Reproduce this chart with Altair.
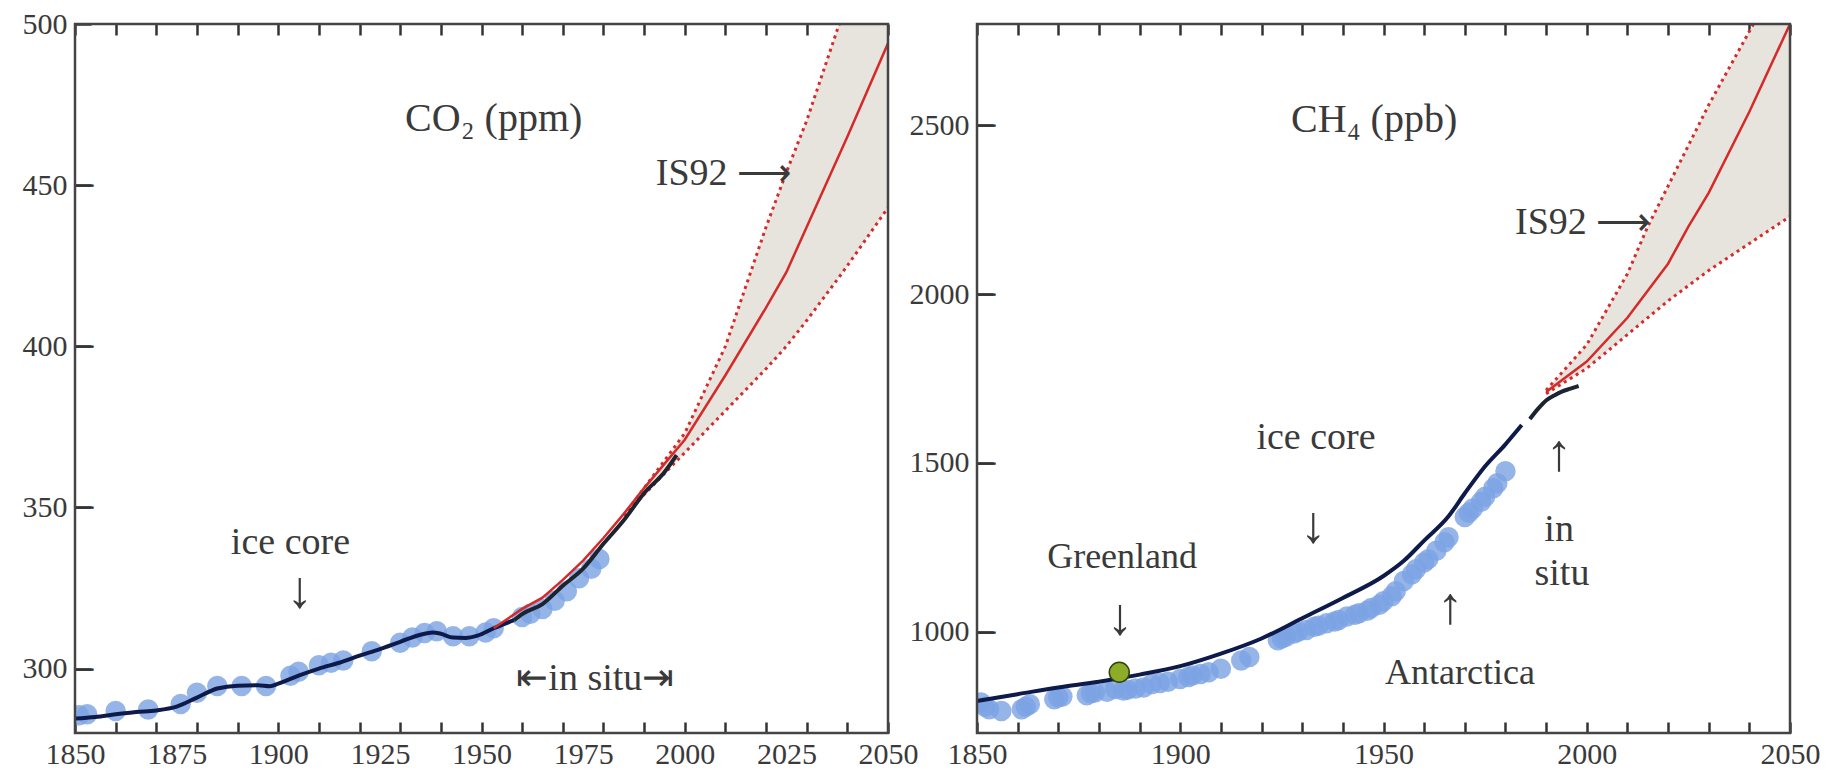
import altair as alt
import pandas as pd

# ---------------- CO2 panel (ppm) ----------------
co2_dot_years = [1851, 1853, 1860, 1868, 1876, 1880, 1885, 1891, 1897, 1903, 1905, 1910, 1913, 1916,
                 1923, 1930, 1933, 1936, 1939, 1943, 1947, 1951, 1953, 1960, 1962, 1965, 1968, 1971,
                 1974, 1977, 1979]
co2_dot_vals = [285.5, 285.8, 286.8, 287.3, 289.0, 292.5, 294.6, 294.6, 294.6, 297.8, 299.0, 301.0, 301.8, 302.5,
                305.4, 308.0, 309.6, 311.0, 311.6, 310.0, 310.0, 311.2, 312.5, 316.0, 317.0, 318.5, 321.0, 324.0,
                328.0, 331.0, 334.0]

co2_fit_years = [1850, 1855, 1860, 1865, 1870, 1875, 1880, 1885, 1890, 1895, 1898, 1900, 1905, 1910, 1915,
                 1920, 1925, 1930, 1935, 1938, 1940, 1943, 1946, 1949, 1953, 1958]
co2_fit_vals = [284.5, 285.0, 285.8, 286.5, 287.0, 288.2, 291.0, 293.8, 294.7, 294.8, 294.5, 295.3, 297.8, 300.0,
                301.8, 304.0, 306.0, 308.3, 310.5, 311.2, 310.8, 309.6, 309.5, 310.2, 312.5, 315.0]

co2_insitu_years = [1958, 1960, 1965, 1970, 1975, 1980, 1985, 1990, 1995, 1998]
co2_insitu_vals = [315.0, 316.9, 320.0, 325.7, 331.0, 338.7, 346.0, 354.4, 360.9, 366.2]

co2_is92_years = [1953, 1960, 1965, 1970, 1975, 1980, 1985, 1990, 2000, 2010, 2020, 2025, 2030, 2040, 2050]
co2_is92_mid = [312.5, 318.5, 322.0, 327.5, 333.5, 340.5, 348.0, 356.0, 371.0, 391.0, 412.0, 423.0, 437.0, 465.0, 494.0]

co2_range_years = [1985, 1990, 2000, 2010, 2020, 2025, 2030, 2038, 2040, 2050]
co2_range_hi = [347.5, 356.0, 373.0, 400.0, 437.0, 454.0, 470.0, 500.0, 507.0, 545.0]
co2_range_lo = [347.5, 354.0, 367.0, 380.0, 393.0, 400.0, 408.0, 421.5, 425.0, 443.0]

# ---------------- CH4 panel (ppb) ----------------
ch4_dot_years = [1851, 1852, 1853, 1856, 1861, 1862, 1863, 1869, 1870, 1871, 1877, 1878, 1879, 1882, 1884,
                 1886, 1887, 1889, 1891, 1893, 1895, 1897, 1900, 1902, 1903, 1905, 1907, 1910, 1915, 1917,
                 1924, 1925, 1926, 1928, 1929, 1931, 1933, 1934, 1936, 1938, 1939, 1941, 1943, 1944, 1946,
                 1947, 1949, 1950, 1952, 1953, 1955, 1957, 1958, 1960, 1961, 1963, 1965, 1966, 1970, 1971,
                 1972, 1974, 1975, 1977, 1978, 1980]
ch4_dot_vals = [790, 778, 770, 765, 770, 778, 785, 800, 805, 808, 812, 818, 820, 822, 830,
                826, 828, 832, 835, 845, 848, 852, 860, 866, 870, 875, 880, 890, 915, 925,
                975, 980, 985, 995, 1000, 1005, 1015, 1018, 1025, 1030, 1035, 1045, 1050, 1055, 1062,
                1070, 1080, 1090, 1105, 1120, 1150, 1170, 1185, 1205, 1215, 1240, 1265, 1280, 1340, 1352,
                1365, 1385, 1400, 1425, 1440, 1475]

ch4_fit_years = [1850, 1860, 1870, 1880, 1890, 1900, 1910, 1920, 1930, 1940, 1950, 1955, 1960, 1966, 1970,
                 1975, 1980, 1984]
ch4_fit_vals = [795, 815, 835, 852, 873, 898, 935, 980, 1040, 1100, 1165, 1210, 1270, 1342, 1410,
                1490, 1555, 1612]

ch4_insitu_years = [1986, 1988, 1990, 1992, 1994, 1996, 1998]
ch4_insitu_vals = [1630, 1660, 1685, 1700, 1712, 1720, 1728]

ch4_is92_years = [1990, 2000, 2010, 2020, 2025, 2030, 2040, 2050]
ch4_is92_mid = [1710, 1800, 1930, 2090, 2200, 2300, 2540, 2800]

ch4_range_years = [1990, 2000, 2010, 2015, 2020, 2030, 2041, 2050]
ch4_range_hi = [1715, 1850, 2060, 2200, 2320, 2560, 2800, 3000]
ch4_range_lo = [1705, 1780, 1880, 1930, 1980, 2070, 2158, 2230]

greenland_year = [1885]
greenland_val = [880]

# axis labels and ticks
co2_x_labels = [1850, 1875, 1900, 1925, 1950, 1975, 2000, 2025, 2050]
co2_y_labels = [300, 350, 400, 450, 500]
ch4_x_labels = [1850, 1900, 1950, 2000, 2050]
ch4_y_labels = [1000, 1500, 2000, 2500]
x_minor_ticks = [1850, 1860, 1870, 1880, 1890, 1900, 1910, 1920, 1930, 1940, 1950, 1960, 1970, 1980, 1990,
                 2000, 2010, 2020, 2030, 2040, 2050]

# annotations (text, year, value, font size)
co2_notes = [
    ("CO\u2082 (ppm)", 1953, 470.5, 40),
    ("IS92 \u27f6", 2009.5, 453.5, 38),
    ("ice core", 1903, 339, 38),
    ("\u2193", 1905.3, 324, 52),
    ("\u21e4in situ\u21e5", 1978, 296.7, 38),
]
ch4_notes = [
    ("CH\u2084 (ppb)", 1947.7, 2516, 40),
    ("IS92 \u27f6", 1999, 2212, 38),
    ("ice core", 1933.4, 1573, 38),
    ("\u2193", 1932.7, 1312, 52),
    ("Greenland", 1885.7, 1221, 36),
    ("\u2193", 1885.2, 1040, 52),
    ("\u2191", 1966.4, 1073, 52),
    ("Antarctica", 1968.8, 877, 36),
    ("\u2191", 1993.2, 1525, 52),
    ("in", 1993.2, 1300, 38),
    ("situ", 1993.9, 1170, 38),
]

FONT = "Liberation Serif"
TXT = "#3a3a3a"
FRAME = "#444444"
TICK = "#333333"
BLUE = "#7ba3e3"
NAVY = "#0e1a4a"
RED = "#d42a2a"
SHADE = "#e7e3dd"
W, H = 813, 709


def panel(dot_y, dot_v, fit_y, fit_v, ins_y, ins_v, mid_y, mid_v, rng_y, rng_hi, rng_lo,
          ydom, x_labels, y_labels, label_step, notes, green=None):
    xs = alt.Scale(domain=[1850, 2050], nice=False, zero=False)
    ys = alt.Scale(domain=ydom, nice=False, zero=False)
    bottom_vals = sorted(set(x_minor_ticks) | set(x_labels))
    xaxis = alt.Axis(values=bottom_vals, orient="bottom", domain=False, grid=False,
                     ticks=True, tickSize=11, tickWidth=2.5, tickColor=TICK, offset=-11,
                     tickOpacity={"condition": {"test": "datum.value % 10 != 0", "value": 0}, "value": 1},
                     labelExpr="datum.value %% %d == 0 ? datum.label : ''" % label_step,
                     labelFont=FONT, labelFontSize=30, labelColor=TXT, labelPadding=6, title=None,
                     format="d", labelFlush=False, labelOverlap=False)
    yaxis = alt.Axis(values=y_labels, orient="left", domain=False, grid=False,
                     ticks=True, tickSize=16, tickWidth=2.5, tickColor=TICK, offset=-16,
                     labelFont=FONT, labelFontSize=30, labelColor=TXT, labelPadding=8, title=None,
                     format="d", labelFlush=False, labelOverlap=False)
    topaxis = alt.Axis(values=x_minor_ticks, orient="top", domain=False, grid=False, labels=False,
                       ticks=True, tickSize=11, tickWidth=2.5, tickColor=TICK, offset=-11, title=None)

    dots = pd.DataFrame({"yr": dot_y, "v": dot_v})
    fit = pd.DataFrame({"yr": fit_y, "v": fit_v})
    ins = pd.DataFrame({"yr": ins_y, "v": ins_v})
    mid = pd.DataFrame({"yr": mid_y, "v": mid_v})
    rng = pd.DataFrame({"yr": rng_y, "hi": rng_hi, "lo": rng_lo})
    xt = pd.DataFrame({"yr": x_minor_ticks})
    inner_y = [v for v in y_labels if ydom[0] < v < ydom[1]]
    yt = pd.DataFrame({"v": inner_y, "t": ["\u2014"] * len(inner_y)})
    nt = pd.DataFrame(notes, columns=["t", "yr", "v", "fs"])

    X = lambda f="yr": alt.X(f + ":Q", scale=xs, axis=xaxis)
    Y = lambda f="v": alt.Y(f + ":Q", scale=ys, axis=yaxis)

    frame = alt.Chart(xt.head(1)).mark_rect(fill="white", fillOpacity=0, stroke=FRAME, strokeWidth=2.5).encode(
        x=alt.value(0), x2=alt.value(W), y=alt.value(0), y2=alt.value(H))
    area = alt.Chart(rng).mark_area(color=SHADE, clip=True).encode(x=X(), y=Y("hi"), y2="lo:Q")
    hi = alt.Chart(rng).mark_line(color=RED, strokeWidth=3, strokeDash=[3, 4], clip=True).encode(x=X(), y=Y("hi"))
    lo = alt.Chart(rng).mark_line(color=RED, strokeWidth=3, strokeDash=[3, 4], clip=True).encode(x=X(), y=Y("lo"))
    pts = alt.Chart(dots).mark_circle(color=BLUE, opacity=0.8, size=420, clip=True).encode(x=X(), y=Y())
    fitl = alt.Chart(fit).mark_line(color=NAVY, strokeWidth=4, interpolate="monotone").encode(x=X(), y=Y())
    insl = alt.Chart(ins).mark_line(color="#1c2430", strokeWidth=4, interpolate="monotone").encode(x=X(), y=Y())
    midl = alt.Chart(mid).mark_line(color=RED, strokeWidth=2.5, clip=True).encode(x=X(), y=Y())

    # inward tick marks on the left edge, drawn as dash glyphs inside the plot
    tk_left = alt.Chart(yt).mark_text(font=FONT, fontSize=18, fontWeight="bold", color=TICK,
                                      stroke=TICK, strokeWidth=1, baseline="middle", align="left",
                                      clip=True).encode(y=Y(), x=alt.value(0), text="t:N")

    txt = alt.Chart(nt).mark_text(font=FONT, color=TXT, baseline="middle", align="center").encode(
        x=X(), y=Y(), text="t:N", size=alt.Size("fs:Q", scale=None, legend=None))

    layers = [area, hi, lo, pts, fitl, insl, midl]
    if green is not None:
        g = pd.DataFrame({"yr": green[0], "v": green[1]})
        layers.append(alt.Chart(g).mark_point(filled=True, color="#8dac28", stroke="#33420f",
                                              strokeWidth=1.5, size=400, opacity=1).encode(x=X(), y=Y()))
    layers += [tk_left, txt]
    inner = alt.layer(*layers)

    top = alt.Chart(xt).mark_point(opacity=0).encode(
        x=alt.X("yr:Q", scale=xs, axis=topaxis), y=alt.value(H / 2))

    return alt.layer(inner, top, frame).resolve_axis(x="independent").properties(width=W, height=H)


left = panel(co2_dot_years, co2_dot_vals, co2_fit_years, co2_fit_vals, co2_insitu_years, co2_insitu_vals,
             co2_is92_years, co2_is92_mid, co2_range_years, co2_range_hi, co2_range_lo,
             [280, 500], co2_x_labels, co2_y_labels, 25, co2_notes)
right = panel(ch4_dot_years, ch4_dot_vals, ch4_fit_years, ch4_fit_vals, ch4_insitu_years, ch4_insitu_vals,
              ch4_is92_years, ch4_is92_mid, ch4_range_years, ch4_range_hi, ch4_range_lo,
              [700, 2800], ch4_x_labels, ch4_y_labels, 50, ch4_notes, green=(greenland_year, greenland_val))

chart = alt.hconcat(left, right, spacing=-11).properties(
    padding={"left": 13, "top": 0, "right": 5, "bottom": 5}, background="white"
)

chart.save("out.html", embed_options={"renderer": "svg", "actions": False})
